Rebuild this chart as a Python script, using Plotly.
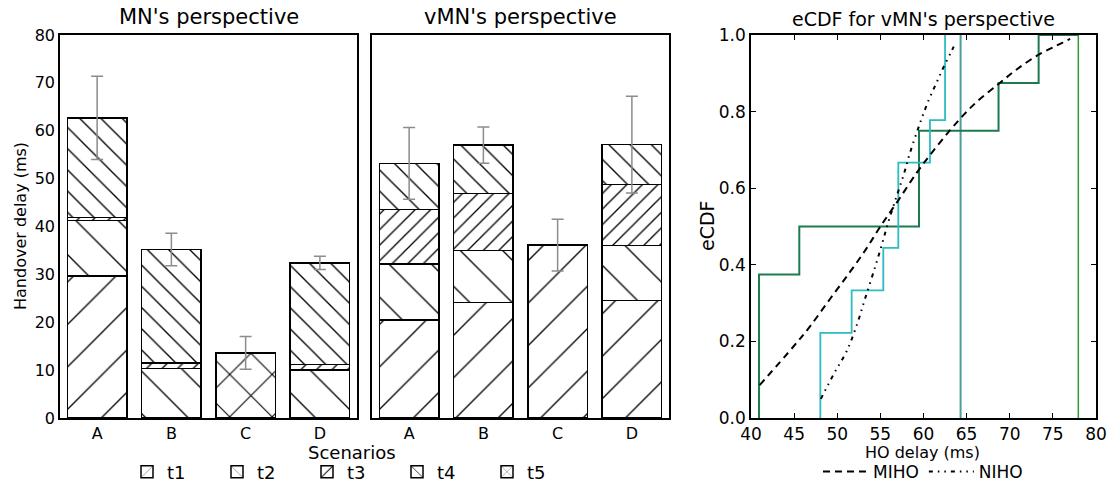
import plotly.graph_objects as go

# ---------------- data ----------------
categories = ["A", "B", "C", "D"]
series_names = ["t1", "t2", "t3", "t4", "t5"]

mn_t1 = [29.7, None, None, None]
mn_t2 = [11.6, 10.3, None, 10.0]
mn_t3 = [0.6, 1.2, None, 1.2]
mn_t4 = [20.8, 23.7, None, 21.2]
mn_t5 = [None, None, 13.6, None]
mn_err = [8.7, 3.4, 3.4, 1.4]

vmn_t1 = [20.5, 24.1, 36.1, 24.5]
vmn_t2 = [11.7, 10.9, None, 11.5]
vmn_t3 = [11.4, 11.9, None, 12.8]
vmn_t4 = [9.6, 10.1, None, 8.3]
vmn_t5 = [None, None, None, None]
vmn_err = [7.5, 3.8, 5.4, 10.1]

# eCDF step data
miho_step_x = [40.93, 40.93, 45.6, 59.48, 68.7, 73.35, 77.95]
miho_step_y = [0.0, 0.375, 0.5, 0.75, 0.875, 1.0, 1.0]
niho_step_x = [48.04, 48.04, 51.67, 55.34, 57.08, 60.75, 62.5]
niho_step_y = [0.0, 0.222, 0.333, 0.444, 0.667, 0.778, 1.0]
miho_vline_x = [77.95, 77.95]
niho_vline_x = [64.3, 64.3]
vline_y = [0.0, 1.0]

# fitted curves
miho_fit_x = [41.0, 44.9, 46.8, 49.2, 51.5, 53.4, 55.0, 57.1, 59.2, 60.7,
              63.1, 64.6, 66.2, 68.7, 70.8, 73.3, 75.4, 77.0]
miho_fit_y = [0.086, 0.186, 0.238, 0.312, 0.382, 0.443, 0.5, 0.569, 0.64, 0.685,
              0.752, 0.79, 0.826, 0.872, 0.91, 0.948, 0.972, 0.99]
niho_fit_x = [48.1, 49.6, 51.1, 52.3, 53.2, 54.4, 55.2, 55.9, 56.9, 57.7,
              58.4, 59.6, 60.6, 61.5, 62.3, 63.3, 63.7]
niho_fit_y = [0.05, 0.115, 0.175, 0.245, 0.31, 0.395, 0.455, 0.51, 0.58, 0.635,
              0.69, 0.77, 0.83, 0.875, 0.915, 0.96, 0.98]

# ---------------- styling ----------------
FONT = "DejaVu Sans"
patterns = {
    "t1": dict(shape="/", size=30, solidity=0.045),
    "t2": dict(shape="\\", size=30, solidity=0.045),
    "t3": dict(shape="/", size=11, solidity=0.12),
    "t4": dict(shape="\\", size=15, solidity=0.09),
    "t5": dict(shape="x", size=30, solidity=0.07),
}

W, H = 1112, 483
def fx(a, b):
    return [a / W, b / W]
def py(p):
    return (H - p) / H
ydom = [py(418), py(35)]

fig = go.Figure()

mn_series = [mn_t1, mn_t2, mn_t3, mn_t4, mn_t5]
vmn_series = [vmn_t1, vmn_t2, vmn_t3, vmn_t4, vmn_t5]

for name, mv, vv in zip(series_names, mn_series, vmn_series):
    p = patterns[name]
    common = dict(
        marker=dict(color="white", line=dict(color="black", width=1.5),
                    pattern=dict(shape=p["shape"], size=p["size"], solidity=p["solidity"],
                                 fgcolor="black", bgcolor="white", fgopacity=1,
                                 fillmode="overlay")),
        width=0.8, legendgroup=name, name=name,
    )
    fig.add_trace(go.Bar(x=categories, y=mv, xaxis="x", yaxis="y", showlegend=True, **common))
    fig.add_trace(go.Bar(x=categories, y=vv, xaxis="x2", yaxis="y2", showlegend=False, **common))

def totals(series):
    return [sum(v for v in vals if v is not None) for vals in zip(*series)]

for tot, err, xa, ya in [(totals(mn_series), mn_err, "x", "y"), (totals(vmn_series), vmn_err, "x2", "y2")]:
    fig.add_trace(go.Scatter(
        x=categories, y=tot, xaxis=xa, yaxis=ya, mode="markers",
        marker=dict(size=1, opacity=0), showlegend=False, hoverinfo="skip",
        error_y=dict(type="data", array=err, visible=True, color="#8c8c8c", thickness=1.5, width=6),
    ))

# eCDF panel
fig.add_trace(go.Scatter(x=miho_vline_x, y=vline_y, mode="lines", xaxis="x3", yaxis="y3",
                         line=dict(color="#2e9a3a", width=1.5), showlegend=False, hoverinfo="skip"))
fig.add_trace(go.Scatter(x=niho_vline_x, y=vline_y, mode="lines", xaxis="x3", yaxis="y3",
                         line=dict(color="#4d9c9c", width=2), showlegend=False, hoverinfo="skip"))
fig.add_trace(go.Scatter(x=miho_step_x, y=miho_step_y, mode="lines", line_shape="hv",
                         xaxis="x3", yaxis="y3", line=dict(color="#1d7a50", width=2),
                         showlegend=False))
fig.add_trace(go.Scatter(x=niho_step_x, y=niho_step_y, mode="lines", line_shape="hv",
                         xaxis="x3", yaxis="y3", line=dict(color="#2cbcc4", width=1.8),
                         showlegend=False))
fig.add_trace(go.Scatter(x=miho_fit_x, y=miho_fit_y, mode="lines", line_shape="spline",
                         xaxis="x3", yaxis="y3", name="MIHO", legend="legend2",
                         line=dict(color="black", width=2, dash="7px,5px")))
fig.add_trace(go.Scatter(x=niho_fit_x, y=niho_fit_y, mode="lines", line_shape="spline",
                         xaxis="x3", yaxis="y3", name="NIHO", legend="legend2",
                         line=dict(color="black", width=2, dash="4px,5px,1.5px,5px,1.5px,5px")))

def axis_common(size):
    return dict(showline=True, linecolor="black", linewidth=1.5,
                showgrid=False, zeroline=False, automargin=False,
                tickfont=dict(family=FONT, size=size, color="black"))

def label(text, x, y, size, angle=0):
    return dict(text=text, x=x / W, y=py(y), xref="paper", yref="paper", showarrow=False,
                xanchor="center", yanchor="middle", textangle=angle,
                font=dict(size=size, family=FONT, color="black"))

fig.update_layout(
    width=W, height=H,
    margin=dict(l=0, r=0, t=0, b=0, autoexpand=False),
    paper_bgcolor="white", plot_bgcolor="white",
    barmode="stack", bargap=0.2,
    font=dict(family=FONT, color="black"),
    xaxis=dict(domain=fx(60, 357), anchor="y", range=[-0.5, 3.5], ticks="", mirror=True,
               **axis_common(16)),
    yaxis=dict(domain=ydom, anchor="x", range=[0, 80], dtick=10, ticks="", mirror=True,
               **axis_common(16)),
    xaxis2=dict(domain=fx(372, 669), anchor="y2", range=[-0.5, 3.5], ticks="", mirror=True,
                **axis_common(16)),
    yaxis2=dict(domain=ydom, anchor="x2", range=[0, 80], dtick=10, ticks="", showticklabels=False,
                mirror=True, **axis_common(16)),
    xaxis3=dict(domain=fx(751, 1096), anchor="y3", range=[40, 80], dtick=5, ticks="inside",
                ticklen=5, tickcolor="black", mirror="ticks", **axis_common(17)),
    yaxis3=dict(domain=ydom, anchor="x3", range=[0, 1], dtick=0.2, tickformat=".1f",
                ticks="inside", ticklen=5, tickcolor="black", mirror="ticks", **axis_common(17)),
    legend=dict(orientation="h", x=352 / W, xanchor="center", y=py(472), yanchor="middle",
                font=dict(family=FONT, size=18, color="black"), traceorder="normal",
                entrywidth=45, entrywidthmode="pixels", bgcolor="rgba(0,0,0,0)"),
    legend2=dict(orientation="h", x=923 / W, xanchor="center", y=py(472), yanchor="middle",
                 font=dict(family=FONT, size=17, color="black"), itemwidth=45,
                 bgcolor="rgba(0,0,0,0)"),
    annotations=[
        label("MN's perspective", 208.5, 17, 21),
        label("vMN's perspective", 520.5, 17, 21),
        label("eCDF for vMN's perspective", 923.5, 19, 19),
        label("Handover delay (ms)", 20, 226, 16, -90),
        label("Scenarios", 352, 452, 18),
        label("eCDF", 707, 226, 19, -90),
        label("HO delay (ms)", 923, 452, 16),
    ],
)

fig.write_html("out.html", config={"displayModeBar": False},
               post_script="document.body.style.margin='0px';")
